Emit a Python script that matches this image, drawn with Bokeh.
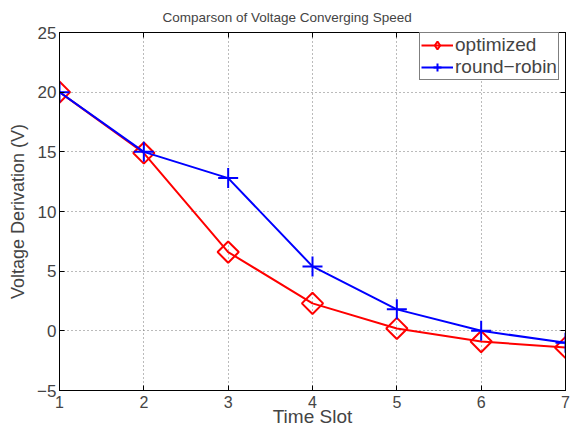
from bokeh.plotting import figure
from bokeh.models import Range1d, LinearAxis, Legend, LegendItem, FixedTicker, Title
from bokeh.embed import file_html
from bokeh.resources import INLINE

time_slot = [1, 2, 3, 4, 5, 6, 7]
optimized = [20.0, 14.9, 6.6, 2.3, 0.2, -0.9, -1.4]
round_robin = [20.0, 15.0, 12.8, 5.4, 1.8, 0.0, -1.0]
x_ticks = [1, 2, 3, 4, 5, 6, 7]
y_ticks = [-5, 0, 5, 10, 15, 20, 25]

FONT = "Liberation Sans"

p = figure(width=573, height=429, output_backend="svg", toolbar_location=None,
           x_range=Range1d(1, 7), y_range=Range1d(-5, 25),
           min_border_left=59, min_border_right=8, min_border_top=32, min_border_bottom=37)
p.title = Title(text="Comparson of Voltage Converging Speed", align="left",
                text_font=FONT, text_font_size="13.5px", text_font_style="normal", offset=103,
                standoff=15)

p.outline_line_color = "black"
p.outline_line_width = 1
p.background_fill_color = "white"
p.border_fill_color = "white"

for ax in (p.xaxis[0], p.yaxis[0]):
    ax.axis_line_color = "black"
    ax.major_tick_in = 5
    ax.major_tick_out = 0
    ax.minor_tick_line_color = None
    ax.major_label_text_font = FONT
    ax.major_label_text_font_size = "17px"
    ax.axis_label_text_font = FONT
    ax.axis_label_text_font_size = "18px"
    ax.axis_label_text_font_style = "normal"

p.xaxis[0].ticker = FixedTicker(ticks=x_ticks)
p.yaxis[0].ticker = FixedTicker(ticks=y_ticks)
p.yaxis[0].major_label_overrides = {-5: "\u22125"}
p.xaxis[0].axis_label = "Time Slot"
p.xaxis[0].axis_label_text_font_size = "19px"
p.xaxis[0].major_label_text_font_size = "16px"
p.yaxis[0].axis_label = "Voltage Derivation (V)"
p.xaxis[0].major_label_standoff = 5
p.yaxis[0].major_label_standoff = 3
p.xaxis[0].axis_label_standoff = -5
p.yaxis[0].axis_label_standoff = 6

top_axis = LinearAxis(ticker=FixedTicker(ticks=x_ticks), major_label_text_font_size="0px",
                      major_tick_in=5, major_tick_out=0, minor_tick_line_color=None,
                      axis_line_color="black", major_label_standoff=0)
right_axis = LinearAxis(ticker=FixedTicker(ticks=y_ticks), major_label_text_font_size="0px",
                        major_tick_in=5, major_tick_out=0, minor_tick_line_color=None,
                        axis_line_color="black", major_label_standoff=0)
top_axis.major_label_text_color = None
right_axis.major_label_text_color = None
p.add_layout(top_axis, "above")
p.add_layout(right_axis, "right")

for g in (p.xgrid[0], p.ygrid[0]):
    g.grid_line_color = "#777777"
    g.grid_line_dash = "1 3"
    g.grid_line_width = 1
p.xgrid[0].ticker = FixedTicker(ticks=x_ticks)
p.ygrid[0].ticker = FixedTicker(ticks=y_ticks)

l1 = p.line(time_slot, optimized, line_color="#ff0000", line_width=2)
m1 = p.scatter(time_slot, optimized, marker="square", angle=0.785398, size=15,
               fill_color=None, line_color="#ff0000", line_width=2)
l2 = p.line(time_slot, round_robin, line_color="#0000ff", line_width=2)
m2 = p.scatter(time_slot, round_robin, marker="cross", size=20,
               line_color="#0000ff", line_width=2)
# zero-size diamond renderer, used only for the legend glyph shape
d1 = p.scatter(time_slot, optimized, marker="diamond", size=0, fill_color=None,
               line_color="#ff0000", line_width=2)

legend = Legend(items=[LegendItem(label="optimized", renderers=[l1, d1]),
                       LegendItem(label="round\u2212robin", renderers=[l2, m2])],
                location=(360, 310), margin=0, padding=1, spacing=0,
                glyph_width=32, glyph_height=20, label_height=20,
                label_standoff=2,
                label_text_font=FONT, label_text_font_size="19px",
                border_line_color="black", border_line_width=1,
                background_fill_alpha=1.0)
p.add_layout(legend, "center")

open("out.html", "w").write(file_html(p, INLINE))
